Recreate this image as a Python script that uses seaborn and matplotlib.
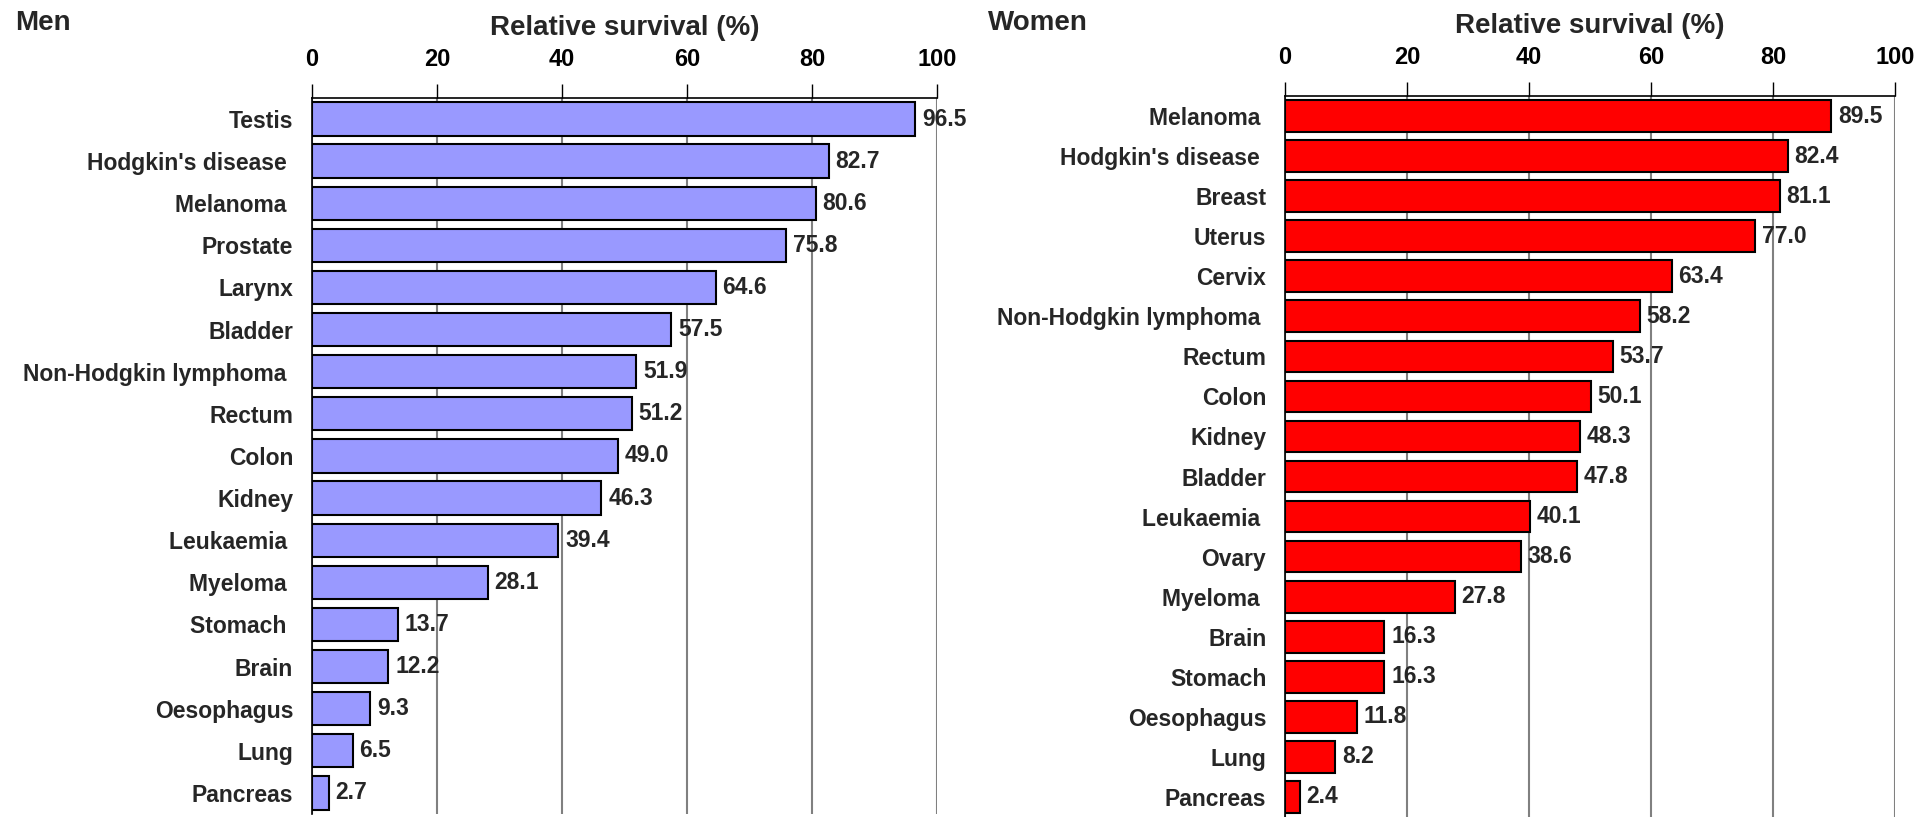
# import libraries
import pandas as pd
import matplotlib
matplotlib.use("Agg")
import matplotlib.pyplot as plt
import seaborn as sns

# data men
men_sites = ["Testis", "Hodgkin's disease ", "Melanoma ", "Prostate", "Larynx", "Bladder",
             "Non-Hodgkin lymphoma ", "Rectum", "Colon", "Kidney", "Leukaemia ", "Myeloma ",
             "Stomach ", "Brain", "Oesophagus", "Lung", "Pancreas"]
men_survival = [96.5, 82.7, 80.6, 75.8, 64.6, 57.5, 51.9, 51.2, 49.0, 46.3, 39.4, 28.1,
                13.7, 12.2, 9.3, 6.5, 2.7]

# data women
women_sites = ["Melanoma ", "Hodgkin's disease ", "Breast", "Uterus", "Cervix",
               "Non-Hodgkin lymphoma ", "Rectum", "Colon", "Kidney", "Bladder", "Leukaemia ",
               "Ovary", "Myeloma ", "Brain", "Stomach", "Oesophagus", "Lung", "Pancreas"]
women_survival = [89.5, 82.4, 81.1, 77.0, 63.4, 58.2, 53.7, 50.1, 48.3, 47.8, 40.1, 38.6,
                  27.8, 16.3, 16.3, 11.8, 8.2, 2.4]

xticks = [0, 20, 40, 60, 80, 100]

df_men = pd.DataFrame({"site": men_sites, "survival": men_survival})
df_women = pd.DataFrame({"site": women_sites, "survival": women_survival})

sns.set_style("white")
plt.rcParams["font.family"] = ["Liberation Sans", "DejaVu Sans"]
plt.rcParams["font.weight"] = "bold"

fig = plt.figure(figsize=(19.33, 8.17), dpi=100)
ax_men = fig.add_axes([0.1614, 0.0037, 0.3233, 0.8764])
ax_women = fig.add_axes([0.6648, 0.0, 0.3156, 0.8825])


def draw_panel(ax, df, color):
    sns.barplot(data=df, x="survival", y="site", ax=ax, color=color, saturation=1,
                width=0.79, edgecolor="black", linewidth=1.5, zorder=3)
    n = len(df)
    ax.set_xlim(0, 100)
    ax.set_ylim(n - 0.5, -0.5)
    ax.set_xticks(xticks)
    ax.xaxis.tick_top()
    ax.xaxis.set_label_position("top")
    ax.set_xlabel("Relative survival (%)", fontsize=20, fontweight="bold", labelpad=9)
    ax.set_ylabel("")
    ax.tick_params(axis="x", direction="out", length=10, width=1, pad=9.5,
                   labelsize=17, colors="black")
    # ticks between categories
    ax.set_yticks([i - 0.5 for i in range(n + 1)], minor=True)
    ax.tick_params(axis="y", which="major", length=0, pad=13.5, labelsize=16.5)
    ax.tick_params(axis="y", which="minor", length=7, width=1, direction="out")
    for lab in ax.get_xticklabels() + ax.get_yticklabels():
        lab.set_fontweight("bold")
    ax.grid(axis="x", color="#808080", linewidth=1.5, zorder=0)
    ax.grid(axis="y", visible=False)
    ax.set_axisbelow(True)
    for side in ["right", "bottom"]:
        ax.spines[side].set_visible(False)
    for side in ["top", "left"]:
        ax.spines[side].set_color("black")
        ax.spines[side].set_linewidth(1.2)
    # value labels
    for i, v in enumerate(df["survival"]):
        ax.text(v + 1.1, i, f"{v:.1f}", va="center", ha="left", fontsize=16.5,
                fontweight="bold", zorder=4, clip_on=False)


draw_panel(ax_men, df_men, "#9999FF")
draw_panel(ax_women, df_women, "#FF0000")

fig.text(15 / 1933, 1 - 23 / 817, "Men", fontsize=20, fontweight="bold", va="center", ha="left")
fig.text(988 / 1933, 1 - 23 / 817, "Women", fontsize=20, fontweight="bold", va="center", ha="left")

fig.savefig("out.png", dpi=100)
